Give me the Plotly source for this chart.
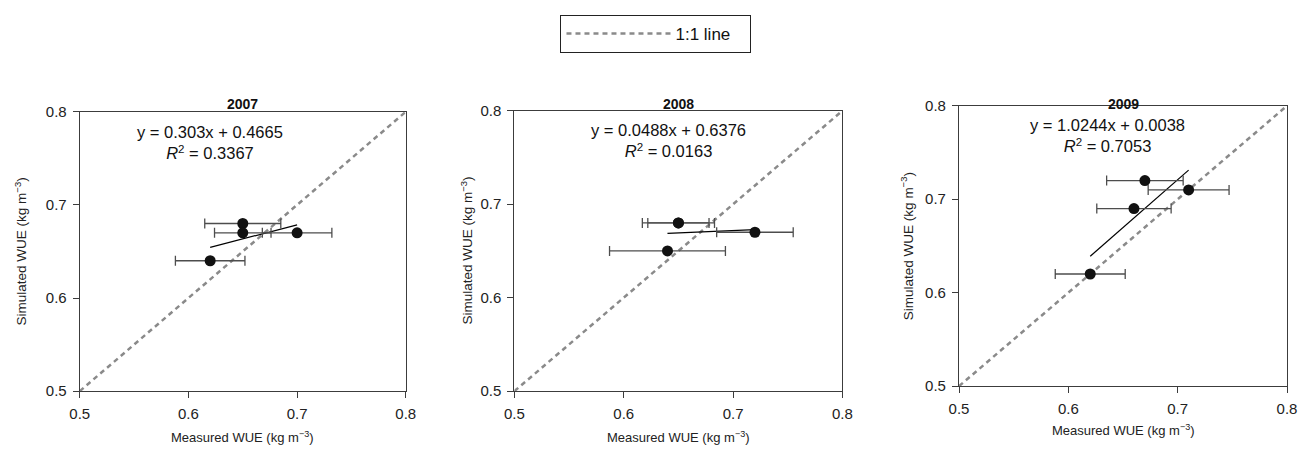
import plotly.graph_objects as go

FONT = "Liberation Sans, Arial, sans-serif"

years = ["2007", "2008", "2009"]

# Measured (x), simulated (y), and horizontal error (SD of measured)
meas_2007 = [0.65, 0.65, 0.70, 0.62]
sim_2007 = [0.68, 0.67, 0.67, 0.64]
err_2007 = [0.035, 0.026, 0.032, 0.032]

meas_2008 = [0.65, 0.65, 0.72, 0.64]
sim_2008 = [0.68, 0.68, 0.67, 0.65]
err_2008 = [0.033, 0.028, 0.035, 0.053]

meas_2009 = [0.67, 0.71, 0.66, 0.62]
sim_2009 = [0.72, 0.71, 0.69, 0.62]
err_2009 = [0.035, 0.037, 0.034, 0.032]

slopes = [0.303, 0.0488, 1.0244]
intercepts = [0.4665, 0.6376, 0.0038]
r2_values = ["0.3367", "0.0163", "0.7053"]
eq_labels = ["y = 0.303x + 0.4665", "y = 0.0488x + 0.6376", "y = 1.0244x + 0.0038"]

axis_range = [0.5, 0.8]
tick_vals = [0.5, 0.6, 0.7, 0.8]
tick_text = ["0.5", "0.6", "0.7", "0.8"]

data = [
    (meas_2007, sim_2007, err_2007),
    (meas_2008, sim_2008, err_2008),
    (meas_2009, sim_2009, err_2009),
]

W, H = 1301, 455
# the page renders the figure inside an 8px body margin
OFF = 8
WE, HE = W - 2 * OFF, H - 2 * OFF


def fx(p):
    return (p - OFF) / WE


def fy(p):
    return 1 - (p - OFF) / HE


# panel pixel boxes (left, right, top, bottom)
boxes = [(78, 405, 111, 391), (514, 843, 110, 391), (960, 1289, 105, 386)]
ytitle_x = [19, 466, 908]
xtitle_y = [437, 437, 430]
title_y = 103
eq_pos = [(0.62, 0.767), (0.641, 0.768), (0.636, 0.768)]

fig = go.Figure()
annotations = []

for i, (yr, (mx, sy, ex)) in enumerate(zip(years, data)):
    n = "" if i == 0 else str(i + 1)
    xa, ya = "x" + n, "y" + n
    l, r, t, b = boxes[i]

    # 1:1 line
    fig.add_trace(go.Scatter(
        x=axis_range, y=axis_range, mode="lines", xaxis=xa, yaxis=ya,
        line=dict(color="#8a8a8a", width=2.5, dash="5px,4px"),
        name="1:1 line", showlegend=(i == 0), hoverinfo="skip"))

    # regression line
    x0, x1 = min(mx), max(mx)
    fig.add_trace(go.Scatter(
        x=[x0, x1], y=[slopes[i] * x0 + intercepts[i], slopes[i] * x1 + intercepts[i]],
        mode="lines", xaxis=xa, yaxis=ya, line=dict(color="black", width=1.2),
        showlegend=False, hoverinfo="skip"))

    # points with error bars
    fig.add_trace(go.Scatter(
        x=mx, y=sy, mode="markers", xaxis=xa, yaxis=ya,
        marker=dict(color="#111111", size=11),
        error_x=dict(type="data", array=ex, visible=True, color="#4d4d4d", thickness=1.3, width=5),
        showlegend=False))

    axcommon = dict(range=axis_range, tickvals=tick_vals, ticktext=tick_text,
                    showgrid=False, zeroline=False, showline=True, mirror=True,
                    linecolor="#3c3c3c", linewidth=1.2, ticks="outside", ticklen=6,
                    tickcolor="#3c3c3c", ticklabelstandoff=3,
                    tickfont=dict(family=FONT, size=15, color="#222"))
    fig.update_layout(**{
        "xaxis" + n: dict(axcommon, domain=[fx(l), fx(r)], anchor=ya),
        "yaxis" + n: dict(axcommon, domain=[fy(b), fy(t)], anchor=xa),
    })

    # panel title
    annotations.append(dict(text="<b>" + yr + "</b>", xref="paper", yref="paper",
                            x=fx((l + r) / 2), y=fy(title_y), xanchor="center", yanchor="middle",
                            showarrow=False, font=dict(family=FONT, size=14, color="#111")))
    # axis titles
    annotations.append(dict(text="Measured WUE (kg m<sup>−3</sup>)", xref="paper", yref="paper",
                            x=fx((l + r) / 2), y=fy(xtitle_y[i]), xanchor="center", yanchor="middle",
                            showarrow=False, font=dict(family=FONT, size=13, color="#222")))
    annotations.append(dict(text="Simulated WUE (kg m<sup>−3</sup>)", xref="paper", yref="paper",
                            x=fx(ytitle_x[i]), y=fy((t + b) / 2), xanchor="center", yanchor="middle",
                            showarrow=False, textangle=-90,
                            font=dict(family=FONT, size=13.5, color="#222")))
    # equation
    annotations.append(dict(text=eq_labels[i] + "<br><i>R</i><sup>2</sup> = " + r2_values[i],
                            xref=xa, yref=ya, x=eq_pos[i][0], y=eq_pos[i][1],
                            xanchor="center", yanchor="middle", showarrow=False,
                            align="center", font=dict(family=FONT, size=16.5, color="#111")))

fig.update_layout(
    width=W, height=H, margin=dict(l=0, r=0, t=0, b=0),
    paper_bgcolor="white", plot_bgcolor="white",
    annotations=annotations,
    legend=dict(x=fx(656), y=fy(14), xanchor="center", yanchor="top",
                bordercolor="#222", borderwidth=1, itemwidth=104,
                orientation="h", entrywidth=70,
                font=dict(family=FONT, size=17, color="#111")),
    showlegend=True,
)

fig.write_html("out.html")
